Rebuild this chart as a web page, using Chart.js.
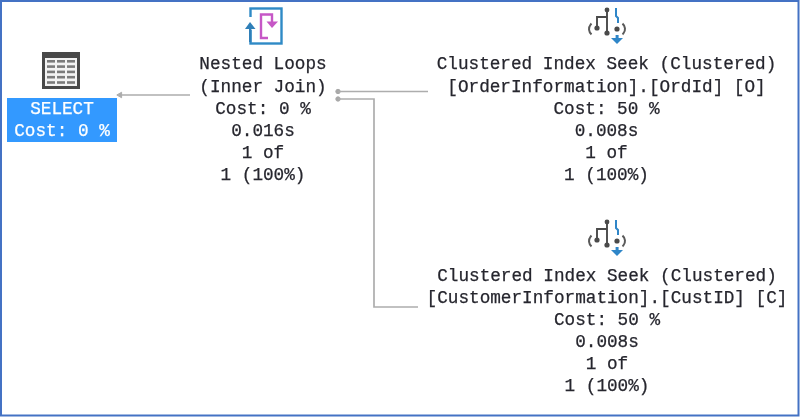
<!DOCTYPE html>
<html><head><meta charset="utf-8">
<style>html,body{margin:0;padding:0;background:#fff;overflow:hidden}canvas{display:block;filter:blur(0.45px)}</style>
<script src="https://cdn.jsdelivr.net/npm/chart.js@4"></script>
</head><body><canvas id="c" width="800" height="417"></canvas>
<script>
const selectLines = ["SELECT", "Cost: 0 %"];
const selectX = 62, selectYs = [109, 131];
const selectBox = {x0: 7, x1: 117, y0: 98, y1: 142};

const joinLines = ["Nested Loops", "(Inner Join)", "Cost: 0 %", "0.016s", "1 of", "1 (100%)"];
const joinX = 263, joinYs = [64, 87, 109, 131, 153, 175];

const seekOrderLines = ["Clustered Index Seek (Clustered)", "[OrderInformation].[OrdId] [O]", "Cost: 50 %", "0.008s", "1 of", "1 (100%)"];
const seekOrderX = 606.5, seekOrderYs = [64, 87, 109, 131, 153, 175];

const seekCustLines = ["Clustered Index Seek (Clustered)", "[CustomerInformation].[CustID] [C]", "Cost: 50 %", "0.008s", "1 of", "1 (100%)"];
const seekCustX = 607, seekCustYs = [276, 298, 320, 342, 364, 386];

const edgeToSelect = [{x: 190, y: 95}, {x: 120, y: 95}];
const edgeOrder = [{x: 338, y: 91.5}, {x: 428, y: 91.5}];
const edgeCust = [{x: 338, y: 99}, {x: 374, y: 99}, {x: 374, y: 307}, {x: 418, y: 307}];
const arrowHeads = [{x: 120, y: 95}];
const edgeDots = [{x: 338, y: 91.5}, {x: 338, y: 99}];

const tableIconAt = {x: 42, y: 52};
const loopIconAt = {x: 250, y: 8};
const seekIconAt = [{x: 607, y: 10}, {x: 607, y: 222}];

const GREY = '#adadad';
const lineDs = (data) => ({type: 'line', data, borderColor: GREY, borderWidth: 1.7, pointRadius: 0, fill: false, tension: 0});

const planPlugin = {
  id: 'plan',
  beforeDatasetsDraw(chart) {
    const {ctx, scales: {x, y}} = chart;
    const X = v => x.getPixelForValue(v), Y = v => y.getPixelForValue(v);
    ctx.save();
    ctx.fillStyle = '#3399ff';
    ctx.fillRect(X(selectBox.x0), Y(selectBox.y0), X(selectBox.x1) - X(selectBox.x0), Y(selectBox.y1) - Y(selectBox.y0));
    ctx.restore();
  },
  afterDatasetsDraw(chart) {
    const {ctx, scales: {x, y}, width, height} = chart;
    const X = v => x.getPixelForValue(v), Y = v => y.getPixelForValue(v);
    ctx.save();
    // text blocks
    ctx.font = '17.7px "Liberation Mono"';
    ctx.textAlign = 'center';
    ctx.textBaseline = 'middle';
    const block = (lines, cx, ys, color) => {
      ctx.fillStyle = color;
      ctx.strokeStyle = color;
      ctx.lineWidth = 0.25;
      lines.forEach((t, i) => { ctx.fillText(t, X(cx), Y(ys[i])); ctx.strokeText(t, X(cx), Y(ys[i])); });
    };
    block(selectLines, selectX, selectYs, '#ffffff');
    block(joinLines, joinX, joinYs, '#26262e');
    block(seekOrderLines, seekOrderX, seekOrderYs, '#26262e');
    block(seekCustLines, seekCustX, seekCustYs, '#26262e');

    // table icon
    const tx = X(tableIconAt.x), ty = Y(tableIconAt.y);
    ctx.fillStyle = '#484848';
    ctx.fillRect(tx, ty, 38, 37);
    ctx.fillStyle = '#f2f2f2';
    ctx.fillRect(tx + 3, ty + 6, 32, 28);
    ctx.fillStyle = '#7a7a7a';
    for (let r = 0; r < 5; r++) for (let c = 0; c < 3; c++) {
      ctx.fillRect(tx + 5 + c * 10, ty + 8 + r * 5.3, 8, 2.6);
    }

    // nested loops icon
    const lx = X(loopIconAt.x), ly = Y(loopIconAt.y);
    ctx.lineWidth = 2.4;
    ctx.strokeStyle = '#2f8ac6';
    ctx.strokeRect(lx + 0.5, ly + 0.5, 31, 35);
    ctx.fillStyle = '#ffffff';
    ctx.fillRect(lx - 2, ly + 9, 6, 13);
    ctx.fillStyle = '#2f7fb8';
    ctx.beginPath();
    ctx.moveTo(lx - 5, ly + 21); ctx.lineTo(lx, ly + 14); ctx.lineTo(lx + 5.5, ly + 21); ctx.closePath(); ctx.fill();
    ctx.fillRect(lx - 1, ly + 20, 2.4, 14);
    ctx.strokeStyle = '#c657c6';
    ctx.beginPath();
    ctx.moveTo(lx + 18, ly + 30); ctx.lineTo(lx + 11, ly + 30); ctx.lineTo(lx + 11, ly + 6.5); ctx.lineTo(lx + 22, ly + 6.5); ctx.lineTo(lx + 22, ly + 14);
    ctx.stroke();
    ctx.fillStyle = '#c657c6';
    ctx.beginPath();
    ctx.moveTo(lx + 16.5, ly + 13.5); ctx.lineTo(lx + 28, ly + 13.5); ctx.lineTo(lx + 22, ly + 20); ctx.closePath(); ctx.fill();

    // seek icons
    seekIconAt.forEach(p => {
      const sx = X(p.x), sy = Y(p.y);
      const dot = (dx, dy, r) => { ctx.beginPath(); ctx.arc(sx + dx, sy + dy, r, 0, 7); ctx.fill(); };
      ctx.strokeStyle = '#4a4a4a'; ctx.fillStyle = '#4a4a4a'; ctx.lineWidth = 1.9;
      ctx.beginPath();
      ctx.moveTo(sx, sy); ctx.lineTo(sx, sy + 23);
      ctx.moveTo(sx, sy + 7); ctx.lineTo(sx - 10, sy + 7); ctx.lineTo(sx - 10, sy + 18);
      ctx.stroke();
      dot(0, 0, 2.4); dot(0, 23, 2.6); dot(-10, 18, 2.6); dot(10, 19, 2.6);
      ctx.lineWidth = 2; ctx.strokeStyle = '#5a5a5a';
      ctx.beginPath(); ctx.arc(sx - 11, sy + 19, 7, Math.PI * 0.72, Math.PI * 1.28); ctx.stroke();
      ctx.beginPath(); ctx.arc(sx + 11, sy + 19, 7, -Math.PI * 0.28, Math.PI * 0.28); ctx.stroke();
      ctx.strokeStyle = '#2f86c8'; ctx.fillStyle = '#2f86c8'; ctx.lineWidth = 2;
      ctx.beginPath();
      ctx.moveTo(sx + 9, sy - 2); ctx.lineTo(sx + 9, sy + 6); ctx.lineTo(sx + 11, sy + 8); ctx.lineTo(sx + 11, sy + 13);
      ctx.stroke();
      ctx.fillRect(sx + 8.6, sy + 25, 3, 4);
      ctx.beginPath();
      ctx.moveTo(sx + 4, sy + 28); ctx.lineTo(sx + 16, sy + 28); ctx.lineTo(sx + 10, sy + 34); ctx.closePath(); ctx.fill();
    });

    // outer frame
    ctx.strokeStyle = '#4472c4';
    ctx.lineWidth = 2;
    ctx.strokeRect(1, 1, width - 2.5, height - 2.5);
    ctx.restore();
  }
};

new Chart(document.getElementById('c'), {
  type: 'scatter',
  data: {datasets: [
    lineDs(edgeToSelect), lineDs(edgeOrder), lineDs(edgeCust),
    {data: arrowHeads, pointStyle: 'triangle', rotation: -90, pointRadius: 3.2, backgroundColor: GREY, borderColor: GREY},
    {data: edgeDots, pointStyle: 'circle', pointRadius: 2.2, backgroundColor: '#a8a8a8', borderColor: '#a8a8a8'}
  ]},
  options: {
    responsive: false, animation: false,
    layout: {padding: 0, autoPadding: false},
    plugins: {legend: {display: false}, tooltip: {enabled: false}},
    scales: {
      x: {type: 'linear', min: 0, max: 800, display: false},
      y: {type: 'linear', min: 0, max: 417, reverse: true, display: false}
    }
  },
  plugins: [planPlugin]
});
</script></body></html>
